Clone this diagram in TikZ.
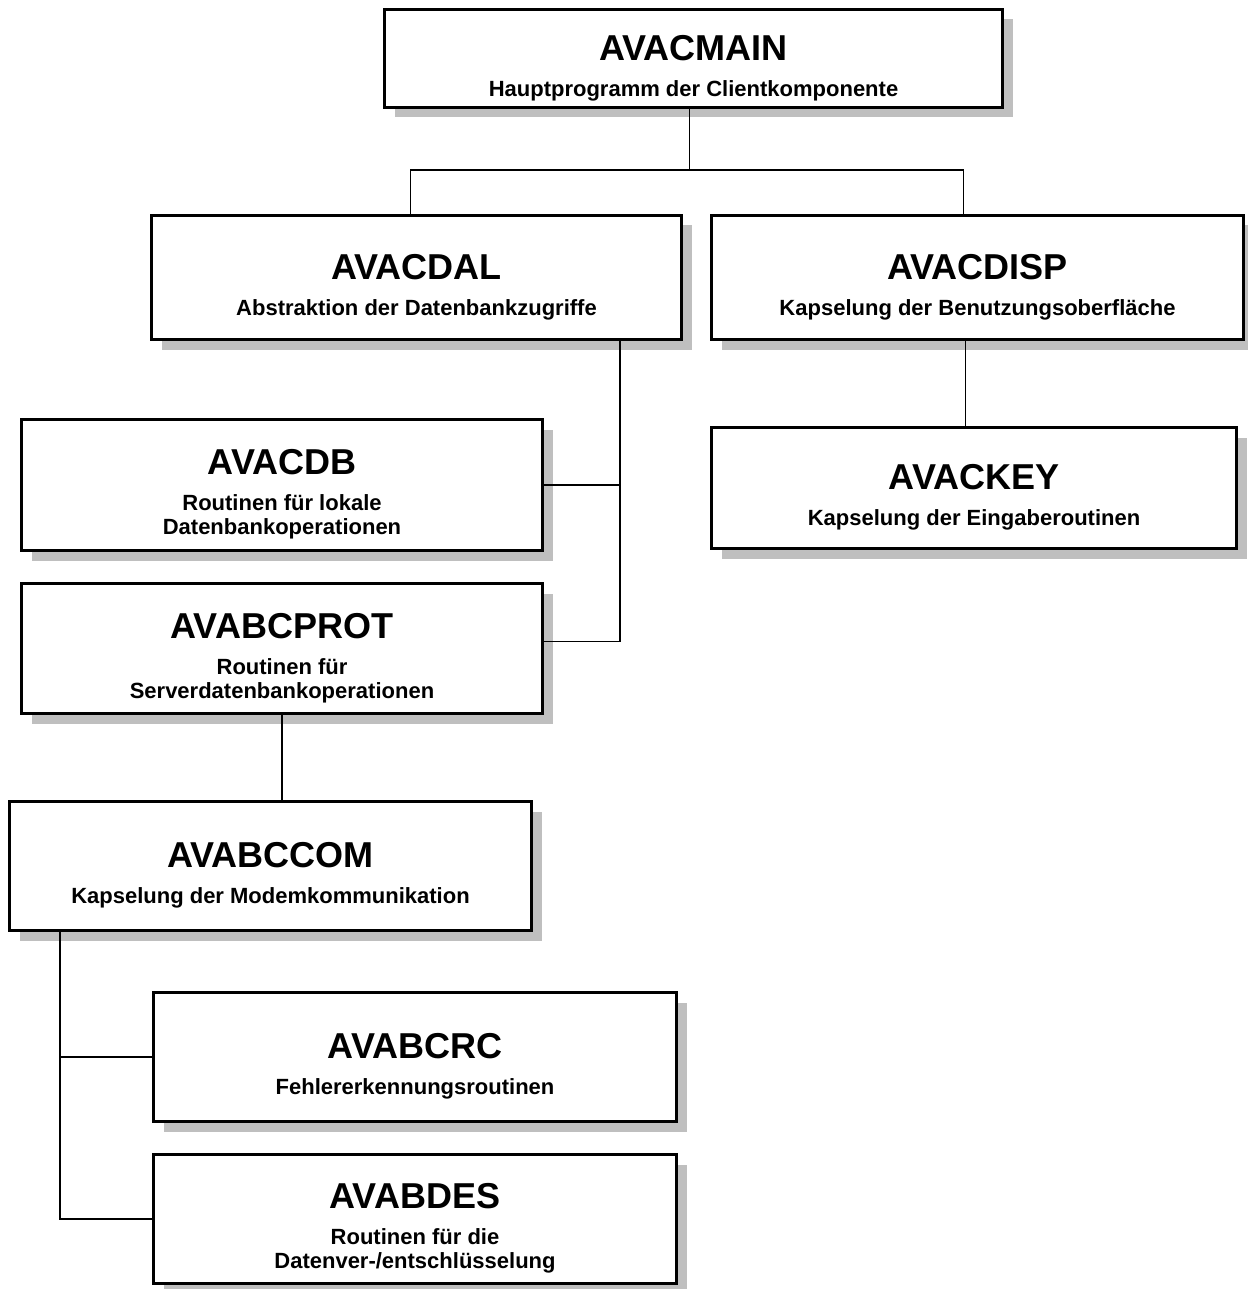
\documentclass[tikz,border=0pt]{standalone}
\usepackage{fontspec}
\setmainfont{Liberation Sans}
\usepackage{tikz}
\usetikzlibrary{shadows}
\newcommand{\titel}{\fontsize{36}{40}\selectfont\bfseries\rule{0pt}{44pt}}
\newcommand{\untertitel}{\fontsize{22}{24}\selectfont\bfseries}

\tikzset{
  modul/.style={draw, line width=3pt, fill=white, align=center,
    font=\untertitel, inner sep=0pt,
    drop shadow={shadow xshift=10pt, shadow yshift=-10pt, fill=black!25, opacity=1}},
  linie/.style={line width=1.5pt}
}

\begin{document}
\begin{tikzpicture}[x=1pt, y=-1pt]
    \useasboundingbox (0,0) rectangle (1247,1289);
    \node[modul, minimum width=618, minimum height=98] (main) at (693.5, 58.5)
        {\titel AVACMAIN\\[12pt]\untertitel Hauptprogramm der Clientkomponente};
    \node[modul, minimum width=530, minimum height=124] (dal) at (416.5, 277.5)
        {\titel AVACDAL\\[12pt]\untertitel Abstraktion der Datenbankzugriffe};
    \node[modul, minimum width=532, minimum height=124] (disp) at (977.5, 277.5)
        {\titel AVACDISP\\[12pt]\untertitel Kapselung der Benutzungsoberfläche};
    \node[modul, minimum width=521, minimum height=131] (db) at (282, 485)
        {\titel AVACDB\\[12pt]\untertitel Routinen für lokale\\\untertitel Datenbankoperationen};
    \node[modul, minimum width=521, minimum height=130] (prot) at (282, 648.5)
        {\titel AVABCPROT\\[12pt]\untertitel Routinen für\\\untertitel Serverdatenbankoperationen};
    \node[modul, minimum width=525, minimum height=121] (key) at (974, 488)
        {\titel AVACKEY\\[12pt]\untertitel Kapselung der Eingaberoutinen};
    \node[modul, minimum width=522, minimum height=129] (com) at (270.5, 866)
        {\titel AVABCCOM\\[12pt]\untertitel Kapselung der Modemkommunikation};
    \node[modul, minimum width=523, minimum height=129] (crc) at (415, 1057)
        {\titel AVABCRC\\[12pt]\untertitel Fehlererkennungsroutinen};
    \node[modul, minimum width=523, minimum height=129] (des) at (415, 1219)
        {\titel AVABDES\\[12pt]\untertitel Routinen für die\\\untertitel Datenver-/entschlüsselung};

    % Verbindungen
    \coordinate (bar) at (0, 170);
    \coordinate (jdal) at (620, 0);
    \coordinate (jcom) at (60, 0);
    \draw[linie] ([xshift=-4pt]main.south) -- ([xshift=-4pt]main.south |- bar);
    \draw[linie] ([xshift=-6pt]dal.north) |- ([xshift=-14pt]disp.north |- bar) -- ([xshift=-14pt]disp.north);
    \draw[linie] (dal.south -| jdal) |- ([yshift=7pt]prot.east);
    \draw[linie] (db.east) -- (db.east -| jdal);
    \draw[linie] ([xshift=-12pt]disp.south) -- ([xshift=-12pt]disp.south |- key.north);
    \draw[linie] (prot.south) -- (prot.south |- com.north);
    \draw[linie] (com.south -| jcom) |- (des.west);
    \draw[linie] (crc.west) -- (crc.west -| jcom);
\end{tikzpicture}
\end{document}
